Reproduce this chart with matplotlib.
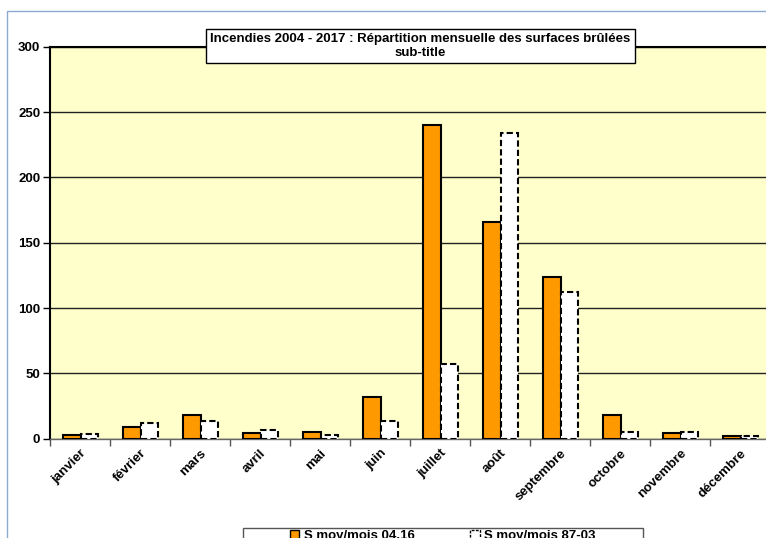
import numpy as np
import matplotlib.pyplot as plt
from matplotlib.patches import Rectangle, Patch

# monthly mean burned surfaces
mois = ['janvier', 'février', 'mars', 'avril', 'mai', 'juin', 'juillet',
        'août', 'septembre', 'octobre', 'novembre', 'décembre']
s_04_16 = [2.8, 8.7, 18.0, 4.1, 5.4, 31.8, 240.0, 166.0, 123.6, 18.5, 4.1, 1.8]
s_87_03 = [3.6, 11.8, 13.3, 6.6, 2.6, 13.2, 57.3, 234.2, 112.4, 5.5, 4.9, 1.8]
yticks = [0, 50, 100, 150, 200, 250, 300]

plt.rcParams['font.family'] = ['Liberation Sans', 'DejaVu Sans']
plt.rcParams['font.size'] = 9.5
plt.rcParams['font.weight'] = 'bold'

W, H = 766, 538
fig = plt.figure(figsize=(W / 100, H / 100), dpi=100)
fig.patch.set_facecolor('white')

# outer chart border
fig.patches.append(Rectangle((7 / W, -0.1), 1.2, 1.1 - 11 / H, transform=fig.transFigure,
                             fill=False, edgecolor='#8ea9cf', lw=1.0))

ax = fig.add_axes([50 / W, 1 - 438.7 / H, 720 / W, 392 / H])
ax.set_facecolor('#ffffcc')

x = np.arange(len(mois))
w = 0.29
ax.bar(x - w / 2 + 0.01, s_04_16, w, color='#ff9900', edgecolor='black', lw=1.5,
       zorder=3, label='S moy/mois 04.16')
ax.bar(x + w / 2 + 0.01, s_87_03, w, color='white', edgecolor='black', lw=1.5,
       linestyle=(0, (3, 1.5)), zorder=3, label='S moy/mois 87-03')

ax.set_xlim(-0.5, len(mois) - 0.5)
ax.set_ylim(0, 300)
ax.set_yticks(yticks)
ax.set_yticklabels([str(v) for v in yticks], fontweight='bold')
ax.yaxis.grid(True, color='#222222', lw=1.0, zorder=1)
ax.set_axisbelow(True)

ax.set_xticks(np.arange(len(mois) + 1) - 0.5, minor=False)
ax.set_xticklabels([])
ax.set_xticks(x, minor=True)
ax.set_xticklabels(mois, minor=True, rotation=45, ha='right', rotation_mode='anchor',
                   fontweight='bold')
ax.tick_params(axis='x', which='minor', length=0, pad=6)
ax.tick_params(axis='x', which='major', length=5, width=1, color='#555555')
ax.tick_params(axis='y', length=5, width=1, pad=2)

for s in ['left', 'top']:
    ax.spines[s].set_linewidth(1.5)
    ax.spines[s].set_color('black')
ax.spines['bottom'].set_color('#666666')
ax.spines['bottom'].set_linewidth(1.0)
ax.spines['right'].set_visible(False)

# title box
fig.text(420.5 / W, 1 - 46 / H,
         'Incendies 2004 - 2017 : Répartition mensuelle des surfaces brûlées\nsub-title',
         ha='center', va='center', fontsize=9.5, fontweight='bold', linespacing=1.3,
         bbox=dict(boxstyle='square,pad=0.3', facecolor='white', edgecolor='black', lw=1.0),
         zorder=10)

# legend frame, running off the bottom edge
fig.patches.append(Rectangle((243 / W, -0.1), 400 / W, 0.1 + 1 - 528 / H,
                             transform=fig.transFigure, facecolor='white',
                             edgecolor='#555555', lw=1.0))
handles = [Patch(facecolor='#ff9900', edgecolor='black', lw=1.0),
           Patch(facecolor='white', edgecolor='black', lw=1.0, linestyle=(0, (2, 1)))]
fig.legend(handles, ['S moy/mois 04.16', 'S moy/mois 87-03'], ncol=2,
           loc='upper center', bbox_to_anchor=(443 / W, 1 - 530 / H),
           frameon=False, prop={'weight': 'bold', 'size': 9.5}, handlelength=0.7,
           handleheight=0.7, handletextpad=0.35, columnspacing=4.2,
           borderpad=0, borderaxespad=0)

fig.savefig('out.png', dpi=100)
